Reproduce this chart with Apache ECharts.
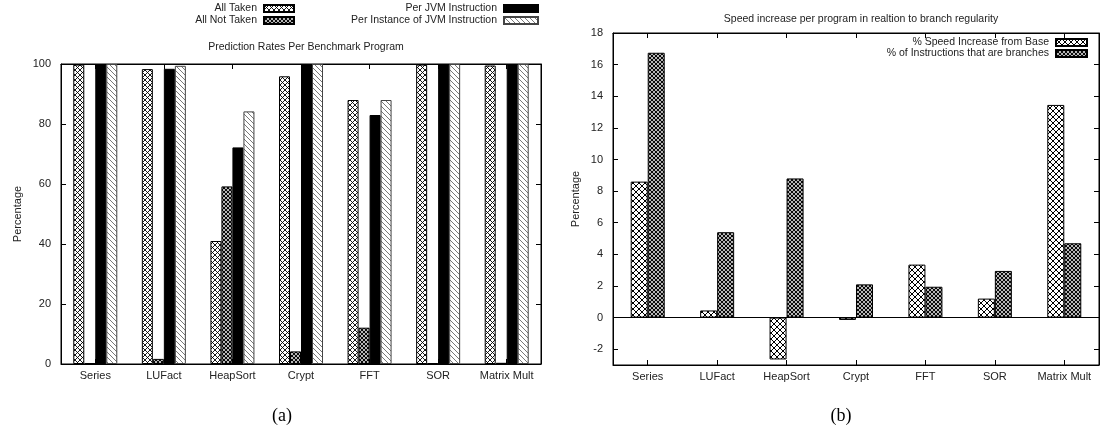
<!DOCTYPE html>
<html><head><meta charset="utf-8">
<script src="https://cdn.jsdelivr.net/npm/echarts@6/dist/echarts.min.js"></script>
<style>html,body{margin:0;padding:0;background:#fff}#c{width:1102px;height:427px}</style>
</head><body><div id="c"></div>
<script>
// ---- data ----
const categories = ['Series', 'LUFact', 'HeapSort', 'Crypt', 'FFT', 'SOR', 'Matrix Mult'];
const allTaken = [99.8, 98.3, 41.0, 95.9, 88.0, 99.8, 99.5];
const allNotTaken = [0.3, 1.7, 59.2, 4.2, 12.1, 0.3, 0.4];
const perJVM = [100, 98.4, 72.2, 100, 83.0, 100, 100];
const perInstance = [100, 99.4, 84.2, 100, 88.0, 100, 100];
const speedIncrease = [8.6, 0.45, -2.65, -0.15, 3.35, 1.2, 13.45];
const branchShare = [16.75, 5.4, 8.8, 2.1, 1.95, 2.95, 4.7];
const leftTicks = [0, 20, 40, 60, 80, 100];
const rightTicks = [-2, 0, 2, 4, 6, 8, 10, 12, 14, 16, 18];

// ---- fill patterns ----
function makePattern(size, draw) {
  const c = document.createElement('canvas');
  c.width = c.height = size;
  const g = c.getContext('2d');
  g.fillStyle = '#fff';
  g.fillRect(0, 0, size, size);
  draw(g, size);
  return { image: c, repeat: 'repeat' };
}
function diag(g, s, dir) {
  for (let k = -1; k <= 1; k++) {
    g.beginPath();
    if (dir > 0) { g.moveTo(k * s, 0); g.lineTo(k * s + s, s); }
    else { g.moveTo(k * s + s, 0); g.lineTo(k * s, s); }
    g.stroke();
  }
}
const crossL = makePattern(5, (g, s) => { g.strokeStyle = '#000'; g.lineWidth = 0.9; diag(g, s, 1); diag(g, s, -1); });
const denseL = makePattern(4, (g, s) => { g.strokeStyle = '#000'; g.lineWidth = 1.1; diag(g, s, 1); diag(g, s, -1); });
const hatchL = makePattern(5, (g, s) => { g.strokeStyle = '#555'; g.lineWidth = 0.8; diag(g, s, 1); });
const crossR = makePattern(6, (g, s) => { g.strokeStyle = '#000'; g.lineWidth = 1; diag(g, s, 1); diag(g, s, -1); });
const denseR = makePattern(4, (g, s) => { g.strokeStyle = '#000'; g.lineWidth = 1.1; diag(g, s, 1); diag(g, s, -1); });

const FONT = 'Liberation Sans';
const txt = { fontFamily: FONT, fontSize: 11, color: '#222' };

function catAxis(grid, pos, showLabel) {
  return {
    type: 'category', data: categories, gridIndex: grid, position: pos,
    axisLine: { onZero: false, lineStyle: { color: '#000', width: 1 } },
    axisTick: { show: true, inside: true, alignWithLabel: true, interval: 0, length: 5, lineStyle: { color: '#000' } },
    axisLabel: { show: showLabel, interval: 0, margin: 6, ...txt },
    splitLine: { show: false }
  };
}
function valAxis(grid, pos, min, max, ticks, showLabel, name, gap) {
  return {
    type: 'value', gridIndex: grid, position: pos, min: min, max: max,
    name: name || '', nameLocation: 'middle', nameGap: gap || 0, nameRotate: 90,
    nameTextStyle: { fontFamily: FONT, fontSize: 11, color: '#222' },
    axisLine: { show: true, onZero: false, lineStyle: { color: '#000', width: 1 } },
    axisTick: { show: true, inside: true, length: 5, customValues: ticks, lineStyle: { color: '#000' } },
    axisLabel: { show: showLabel, margin: 10, customValues: ticks, ...txt },
    splitLine: { show: false }
  };
}
const border = { borderColor: '#000', borderWidth: 1 };
function bar(name, data, color, xi, yi, w, bc) {
  return {
    name: name, type: 'bar', data: data, xAxisIndex: xi, yAxisIndex: yi,
    barWidth: w, barGap: '0%',
    itemStyle: { color: color, borderColor: bc || '#000', borderWidth: 1 },
    emphasis: { disabled: true }, animation: false
  };
}
function leg(name, right, top, w, h) {
  return {
    data: [{ name: name, icon: 'rect' }], right: right, top: top, align: 'right', orient: 'horizontal',
    itemWidth: w, itemHeight: h, itemGap: 4, padding: 0,
    textStyle: { fontFamily: FONT, fontSize: 10.5, color: '#222', padding: [0, 2, 0, 0] },
    selectedMode: false
  };
}

const speedSeries = bar('% Speed Increase from Base', speedIncrease, crossR, 2, 2, 17);
speedSeries.markLine = {
  silent: true, symbol: 'none', animation: false,
  data: [{ yAxis: 0 }], label: { show: false },
  lineStyle: { color: '#000', width: 1, type: 'solid' }
};

const option = {
  backgroundColor: '#fff',
  animation: false,
  title: [
    { text: 'Prediction Rates Per Benchmark Program', left: 301, top: 37, textAlign: 'center',
      textStyle: { fontFamily: FONT, fontSize: 10.5, fontWeight: 'normal', color: '#222' } },
    { text: 'Speed increase per program in realtion to branch regularity', left: 856, top: 9, textAlign: 'center',
      textStyle: { fontFamily: FONT, fontSize: 10.5, fontWeight: 'normal', color: '#222' } },
    { text: '(a)', left: 277, top: 402, textAlign: 'center',
      textStyle: { fontFamily: 'Liberation Serif', fontSize: 18, fontWeight: 'normal', color: '#000' } },
    { text: '(b)', left: 836, top: 402, textAlign: 'center',
      textStyle: { fontFamily: 'Liberation Serif', fontSize: 18, fontWeight: 'normal', color: '#000' } }
  ],
  legend: [
    leg('All Taken', 807, 3, 30, 7),
    leg('All Not Taken', 807, 15, 30, 7),
    leg('Per JVM Instruction', 563, 3, 34, 7),
    leg('Per Instance of JVM Instruction', 563, 15, 34, 7),
    leg('% Speed Increase from Base', 14, 37, 31, 7),
    leg('% of Instructions that are branches', 14, 48, 31, 7)
  ],
  grid: [
    { left: 61, top: 64, width: 480, height: 300, show: true, ...border, backgroundColor: 'transparent' },
    { left: 613, top: 33, width: 486, height: 332, show: true, ...border, backgroundColor: 'transparent' }
  ],
  xAxis: [
    catAxis(0, 'bottom', true),
    catAxis(0, 'top', false),
    catAxis(1, 'bottom', true),
    catAxis(1, 'top', false)
  ],
  yAxis: [
    valAxis(0, 'left', 0, 100, leftTicks, true, 'Percentage', 38),
    valAxis(0, 'right', 0, 100, leftTicks, false),
    valAxis(1, 'left', -3, 18, rightTicks, true, 'Percentage', 32),
    valAxis(1, 'right', -3, 18, rightTicks, false)
  ],
  series: [
    bar('All Taken', allTaken, crossL, 0, 0, 11),
    bar('All Not Taken', allNotTaken, denseL, 0, 0, 11),
    bar('Per JVM Instruction', perJVM, '#000', 0, 0, 11),
    bar('Per Instance of JVM Instruction', perInstance, hatchL, 0, 0, 11, '#444'),
    speedSeries,
    bar('% of Instructions that are branches', branchShare, denseR, 2, 2, 17)
  ]
};
const chart = echarts.init(document.getElementById('c'), null, { renderer: 'canvas' });
chart.setOption(option);
</script>
</body></html>
